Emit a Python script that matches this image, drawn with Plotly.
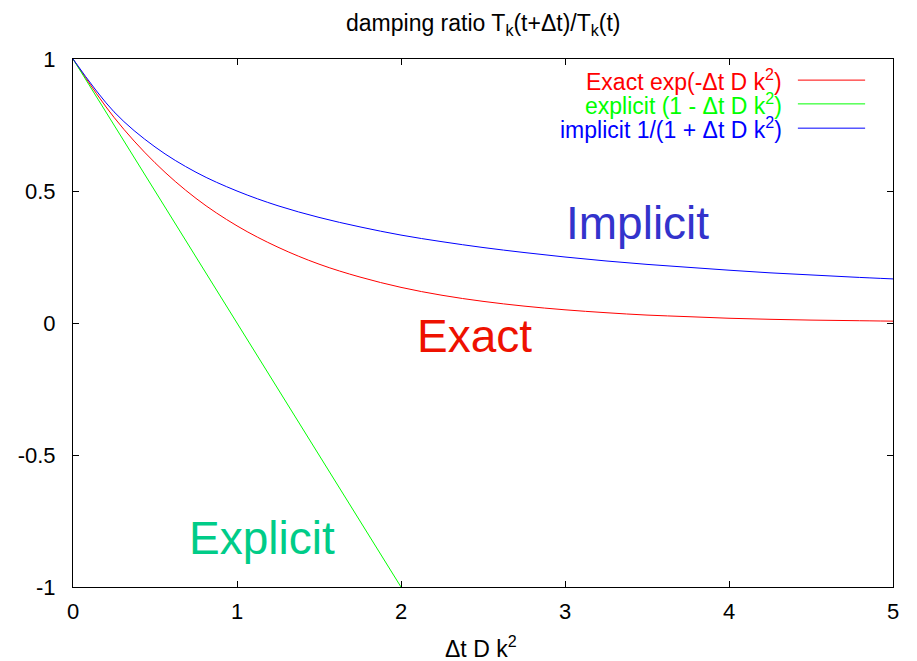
import plotly.graph_objects as go

# Data (x = Δt D k², y = damping ratio)
x_curve = [0, 0.25, 0.5, 0.75, 1.0, 1.25, 1.5, 1.75, 2.0, 2.25, 2.5, 2.75, 3.0,
           3.25, 3.5, 3.75, 4.0, 4.25, 4.5, 4.75, 5.0]
exact_y = [1.0, 0.779, 0.607, 0.472, 0.368, 0.287, 0.223, 0.174, 0.135, 0.105,
           0.082, 0.064, 0.050, 0.039, 0.030, 0.024, 0.018, 0.014, 0.011, 0.009, 0.007]
implicit_y = [1.0, 0.800, 0.667, 0.571, 0.500, 0.444, 0.400, 0.364, 0.333, 0.308,
              0.286, 0.267, 0.250, 0.235, 0.222, 0.211, 0.200, 0.190, 0.182, 0.174, 0.167]
explicit_x = [0, 2.0]
explicit_y = [1.0, -1.0]

legend_labels = ["Exact exp(-Δt D k<sup>2</sup>)",
                 "explicit (1 - Δt D k<sup>2</sup>)",
                 "implicit 1/(1 + Δt D k<sup>2</sup>)"]
series_colors = ["#ff0000", "#00ff00", "#0000ff"]

x_ticks = [0, 1, 2, 3, 4, 5]
y_ticks = [-1, -0.5, 0, 0.5, 1]
y_ticktext = ["-1", "-0.5", "0", "0.5", "1"]

FONT = "Liberation Sans, Arial, sans-serif"

fig = go.Figure()
fig.add_trace(go.Scatter(x=x_curve, y=exact_y, mode="lines", line=dict(color=series_colors[0], width=1, shape="spline"), showlegend=False))
fig.add_trace(go.Scatter(x=explicit_x, y=explicit_y, mode="lines", line=dict(color=series_colors[1], width=1), showlegend=False))
fig.add_trace(go.Scatter(x=x_curve, y=implicit_y, mode="lines", line=dict(color=series_colors[2], width=1, shape="spline"), showlegend=False))

# gnuplot-style key: right-aligned text with line sample to the right
legend_rows = [0.960, 0.915, 0.869]
for lbl, col, yy in zip(legend_labels, series_colors, legend_rows):
    fig.add_annotation(xref="paper", yref="paper", x=0.866, y=yy, text=lbl,
                       showarrow=False, xanchor="right", yanchor="middle",
                       borderpad=0,
                       font=dict(family=FONT, size=23, color=col))
    fig.add_shape(type="line", xref="paper", yref="paper", x0=0.884, x1=0.966,
                  y0=yy, y1=yy, line=dict(color=col, width=1))

# big labels
fig.add_annotation(x=3.44, y=0.38, text="Implicit", showarrow=False,
                   font=dict(family=FONT, size=46, color="#3333cc"))
fig.add_annotation(x=2.45, y=-0.05, text="Exact", showarrow=False,
                   font=dict(family=FONT, size=46, color="#ee1100"))
fig.add_annotation(x=1.15, y=-0.815, text="Explicit", showarrow=False,
                   font=dict(family=FONT, size=46, color="#00cc88"))

# x-axis label
fig.add_annotation(xref="paper", yref="paper", x=0.497, y=0, yshift=-43,
                   text="Δt D k<sup>2</sup>", showarrow=False, yanchor="top",
                   font=dict(family=FONT, size=23, color="black"))

fig.update_layout(
    width=917, height=661,
    margin=dict(l=73, r=24, t=59, b=74),
    paper_bgcolor="white", plot_bgcolor="white",
    font=dict(family=FONT, size=22, color="black"),
    title=dict(text="damping ratio T<sub>k</sub>(t+Δt)/T<sub>k</sub>(t)",
               x=0.527, xanchor="center", y=0.965, yanchor="middle",
               font=dict(family=FONT, size=23, color="black")),
    showlegend=False,
)
fig.update_xaxes(range=[0, 5], tickvals=x_ticks, ticks="inside", ticklen=6,
                 tickcolor="black", showline=True, linecolor="black", linewidth=1,
                 mirror="ticks", showgrid=False, zeroline=False,
                 ticklabelstandoff=5)
fig.update_yaxes(range=[-1, 1], tickvals=y_ticks, ticktext=y_ticktext, ticks="inside",
                 ticklen=6, tickcolor="black", showline=True, linecolor="black",
                 linewidth=1, mirror="ticks", showgrid=False, zeroline=False,
                 ticklabelstandoff=12)

fig.write_html("out.html")
